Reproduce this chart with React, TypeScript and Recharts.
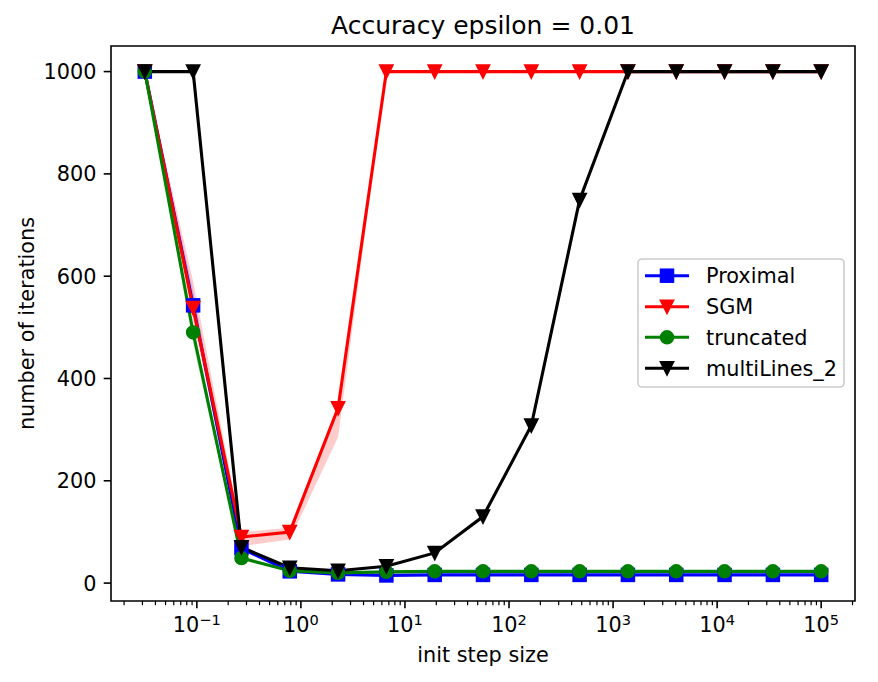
import React from 'react';
import { ComposedChart, Line, Area, XAxis, YAxis, ReferenceArea } from 'recharts';

// ---- data ----
const xValues = [0.03162, 0.0921, 0.2683, 0.7814, 2.276, 6.629, 19.31, 56.23, 163.8, 477.1, 1389, 4047, 11788, 34340, 100000];

const proximal = [1000, 543, 68, 23, 17, 15, 16, 16, 16, 16, 16, 16, 16, 16, 16];
const proximalLow = [1000, 522, 64, 22, 16, 15, 16, 16, 16, 16, 16, 16, 16, 16, 16];
const proximalHigh = [1000, 570, 72, 24, 18, 15, 16, 16, 16, 16, 16, 16, 16, 16, 16];

const sgm = [1000, 538, 90, 100, 342, 1000, 1000, 1000, 1000, 1000, 1000, 1000, 1000, 1000, 1000];
const sgmLow = [1000, 512, 72, 85, 285, 1000, 1000, 1000, 1000, 1000, 1000, 1000, 1000, 1000, 1000];
const sgmHigh = [1000, 590, 100, 108, 348, 1000, 1000, 1000, 1000, 1000, 1000, 1000, 1000, 1000, 1000];

const truncated = [1000, 490, 49, 24, 20, 22, 23, 23, 23, 23, 23, 23, 23, 23, 23];
const truncatedLow = [1000, 468, 45, 23, 19, 22, 23, 23, 23, 23, 23, 23, 23, 23, 23];
const truncatedHigh = [1000, 496, 52, 25, 21, 22, 23, 23, 23, 23, 23, 23, 23, 23, 23];

const multiLines2 = [1000, 1000, 70, 30, 24, 33, 59, 130, 308, 749, 1000, 1000, 1000, 1000, 1000];

const majorTicks = [0.1, 1, 10, 100, 1000, 10000, 100000];
const majorExponents = ['\u22121', '0', '1', '2', '3', '4', '5'];
const minorMantissas = [2, 3, 4, 5, 6, 7, 8, 9];
const minorDecades = [0.01, 0.1, 1, 10, 100, 1000, 10000, 100000];
const yTicks = [0, 200, 400, 600, 800, 1000];

const legendItems = [
  { name: 'Proximal', color: '#0000ff', marker: 'square' },
  { name: 'SGM', color: '#ff0000', marker: 'tri' },
  { name: 'truncated', color: '#008000', marker: 'circle' },
  { name: 'multiLines_2', color: '#000000', marker: 'tri' },
];

// ---- layout ----
const W = 878;
const H = 682;
const X_MIN = Math.pow(10, -1.825);
const X_MAX = Math.pow(10, 5.325);
const Y_MIN = -35;
const Y_MAX = 1050;
const FONT = '"DejaVu Sans", sans-serif';
const FS = 20.8;
const MS = 12.5; // marker size

const data = xValues.map((x, i) => ({
  x,
  prox: proximal[i],
  sgm: sgm[i],
  trunc: truncated[i],
  multi: multiLines2[i],
  proxBand: [proximalLow[i], proximalHigh[i]],
  sgmBand: [sgmLow[i], sgmHigh[i]],
  truncBand: [truncatedLow[i], truncatedHigh[i]],
}));

const minorTicks: number[] = [];
minorDecades.forEach((d) => minorMantissas.forEach((m) => {
  const v = d * m;
  if (v > X_MIN && v < X_MAX) minorTicks.push(v);
}));
const allTicks = [...majorTicks, ...minorTicks].sort((a, b) => a - b);

function markerEl(kind: string, color: string, cx: number, cy: number, key?: any) {
  const h = MS / 2;
  if (kind === 'square') {
    return <rect key={key} x={cx - h} y={cy - h} width={MS} height={MS} fill={color} stroke={color} strokeWidth={2} />;
  }
  if (kind === 'circle') {
    return <circle key={key} cx={cx} cy={cy} r={h} fill={color} stroke={color} strokeWidth={2} />;
  }
  return (
    <path key={key} d={`M${cx},${cy + h} L${cx - h},${cy - h} L${cx + h},${cy - h} Z`} fill={color} stroke={color} strokeWidth={2} strokeLinejoin="miter" />
  );
}

const makeDot = (kind: string, color: string) => (p: any) => {
  if (p.cx == null || p.cy == null) return <g key={p.index} />;
  return markerEl(kind, color, p.cx, p.cy, p.index);
};

const XTick = (props: any) => {
  const { x, y, payload } = props;
  const v = payload.value;
  const idx = majorTicks.findIndex((m) => Math.abs(m - v) / m < 1e-6);
  if (idx < 0) {
    return <line x1={x} x2={x} y1={y} y2={y + 4.2} stroke="#000" strokeWidth={1.2} />;
  }
  return (
    <g>
      <line x1={x} x2={x} y1={y} y2={y + 7.3} stroke="#000" strokeWidth={1.6} />
      <text x={x} y={y + 30.7} textAnchor="middle" fontFamily={FONT} fontSize={FS} fill="#000">
        10<tspan fontSize={14.6} dy={-7}>{majorExponents[idx]}</tspan>
      </text>
    </g>
  );
};

const YTick = (props: any) => {
  const { x, y, payload } = props;
  return (
    <g>
      <line x1={x - 7.3} x2={x} y1={y} y2={y} stroke="#000" strokeWidth={1.6} />
      <text x={x - 14.6} y={y + 7.5} textAnchor="end" fontFamily={FONT} fontSize={FS} fill="#000">
        {String(payload.value)}
      </text>
    </g>
  );
};

export default function App() {
  const lx = 638;
  const ly = 259;
  const rowY = [275.7, 306.7, 337.3, 368.3];
  return (
    <div style={{ position: 'absolute', left: 0, top: 0, width: W, height: H, background: '#fff' }}>
      <ComposedChart width={W} height={H} data={data} margin={{ top: 46, right: 23, bottom: 0, left: 0 }}>
        <XAxis
          dataKey="x"
          type="number"
          scale="log"
          domain={[X_MIN, X_MAX]}
          allowDataOverflow
          ticks={allTicks}
          interval={0}
          tick={<XTick />}
          tickLine={false}
          tickSize={0}
          tickMargin={0}
          axisLine={false}
          height={81}
        />
        <YAxis
          type="number"
          domain={[Y_MIN, Y_MAX]}
          allowDataOverflow
          ticks={yTicks}
          interval={0}
          tick={<YTick />}
          tickLine={false}
          tickSize={0}
          tickMargin={0}
          axisLine={false}
          width={111}
        />
        <Area dataKey="proxBand" type="linear" stroke="none" fill="#0000ff" fillOpacity={0.2} isAnimationActive={false} dot={false} activeDot={false} />
        <Line dataKey="prox" type="linear" stroke="#0000ff" strokeWidth={3.1} dot={makeDot('square', '#0000ff')} activeDot={false} isAnimationActive={false} />
        <Area dataKey="sgmBand" type="linear" stroke="none" fill="#ff0000" fillOpacity={0.2} isAnimationActive={false} dot={false} activeDot={false} />
        <Line dataKey="sgm" type="linear" stroke="#ff0000" strokeWidth={3.1} dot={makeDot('tri', '#ff0000')} activeDot={false} isAnimationActive={false} />
        <Area dataKey="truncBand" type="linear" stroke="none" fill="#008000" fillOpacity={0.2} isAnimationActive={false} dot={false} activeDot={false} />
        <Line dataKey="trunc" type="linear" stroke="#008000" strokeWidth={3.1} dot={makeDot('circle', '#008000')} activeDot={false} isAnimationActive={false} />
        <Line dataKey="multi" type="linear" stroke="#000000" strokeWidth={3.1} dot={makeDot('tri', '#000000')} activeDot={false} isAnimationActive={false} />
        <ReferenceArea x1={X_MIN} x2={X_MAX} y1={Y_MIN} y2={Y_MAX} fill="none" fillOpacity={0} stroke="#000" strokeWidth={1.6} ifOverflow="visible" />
      </ComposedChart>
      <svg width={W} height={H} style={{ position: 'absolute', left: 0, top: 0, pointerEvents: 'none' }}>
        <text x={483} y={33.5} textAnchor="middle" fontFamily={FONT} fontSize={25} fill="#000">Accuracy epsilon = 0.01</text>
        <text x={483} y={662} textAnchor="middle" fontFamily={FONT} fontSize={FS} fill="#000">init step size</text>
        <text x={34} y={323.5} textAnchor="middle" fontFamily={FONT} fontSize={FS} fill="#000" transform="rotate(-90 34 323.5)">number of iterations</text>
        <rect x={lx} y={ly} width={206} height={128} rx={4} ry={4} fill="#fff" fillOpacity={0.8} stroke="#cccccc" strokeWidth={1.6} />
        {legendItems.map((it, i) => (
          <g key={it.name}>
            <line x1={645} x2={689} y1={rowY[i]} y2={rowY[i]} stroke={it.color} strokeWidth={3.1} />
            {markerEl(it.marker, it.color, 667, rowY[i])}
            <text x={706} y={rowY[i] + 7.4} fontFamily={FONT} fontSize={FS} fill="#000">{it.name}</text>
          </g>
        ))}
      </svg>
    </div>
  );
}
